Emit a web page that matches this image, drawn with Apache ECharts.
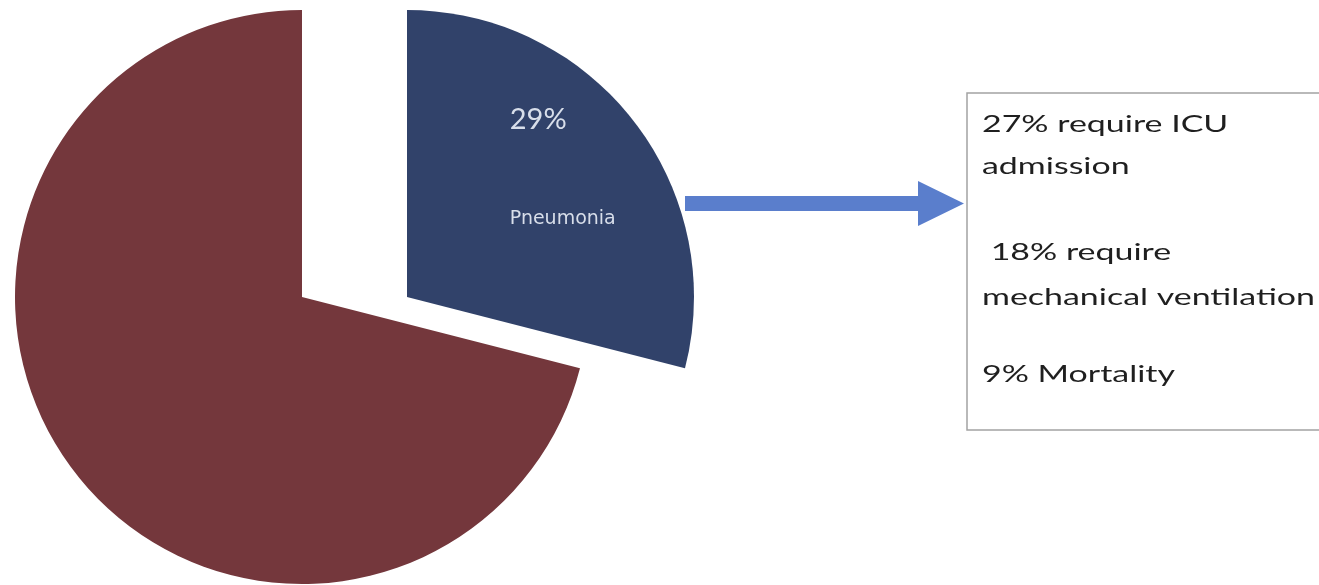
<!DOCTYPE html>
<html>
<head>
<meta charset="utf-8">
<script src="https://cdn.jsdelivr.net/npm/echarts@6/dist/echarts.min.js"></script>
<style>
  html, body { margin: 0; padding: 0; background: #fff; }
  #myChart { width: 1319px; height: 585px; }
</style>
</head>
<body>
<div id="myChart"></div>
<script>
// pie data
var categories = ['Pneumonia', 'Other'];
var values = [29, 71];
var sliceColors = ['#31426A', '#74373C'];
// text in the box on the right
var noteLines = ['27% require ICU', 'admission', ' 18% require', 'mechanical ventilation', '9% Mortality'];

var myChart = echarts.init(document.getElementById('myChart'));

// the reference text is drawn wide, so stretch it a bit
var ctx = document.createElement('canvas').getContext('2d');
ctx.font = '24px Lato';
var stretch = 333 / ctx.measureText(noteLines[3]).width;
var lineY = [124, 166, 252, 297, 374];

function pieData(show) {
  return categories.map(function (name, i) {
    return {
      name: name,
      value: values[i],
      itemStyle: { color: i === show ? sliceColors[i] : 'rgba(0,0,0,0)' },
      label: { show: i === show && i === 0 }
    };
  });
}

var labelCfg = {
  position: 'inside',
  formatter: '{p|{d}%}\n{n|{b}}',
  rich: {
    p: { fontFamily: 'Lato', fontSize: 29, color: '#D8DEEA', lineHeight: 30, align: 'left' },
    n: { fontFamily: 'DejaVu Sans', fontSize: 19, color: '#D8DEEA', lineHeight: 170, align: 'left' }
  }
};

var option = {
  animation: false,
  series: [{
    type: 'pie',
    silent: true,
    center: [302, 297],
    radius: [0, 287],
    startAngle: 90,
    itemStyle: { borderWidth: 0 },
    label: { show: false },
    labelLine: { show: false },
    data: pieData(1)
  }, {
    type: 'pie',
    silent: true,
    center: [407, 297],
    radius: [0, 287],
    startAngle: 90,
    itemStyle: { borderWidth: 0 },
    label: labelCfg,
    labelLine: { show: false },
    labelLayout: { dx: 40, dy: -3 },
    data: pieData(0)
  }],
  graphic: [{
    type: 'polygon',
    shape: { points: [[685, 196], [918, 196], [918, 181], [964, 203.5], [918, 226], [918, 211], [685, 211]] },
    style: { fill: '#5A7ECC' }
  }, {
    type: 'rect',
    shape: { x: 967, y: 93, width: 400, height: 337 },
    style: { fill: '#fff', stroke: '#A3A3A3', lineWidth: 1.5 }
  }].concat(noteLines.map(function (t, i) {
    return {
      type: 'text',
      x: 982,
      y: lineY[i],
      scaleX: stretch,
      style: {
        text: t,
        x: 0,
        y: 0,
        font: '24px Lato',
        fill: '#1F1F1F',
        verticalAlign: 'middle'
      }
    };
  }))
};

myChart.setOption(option);
</script>
</body>
</html>
